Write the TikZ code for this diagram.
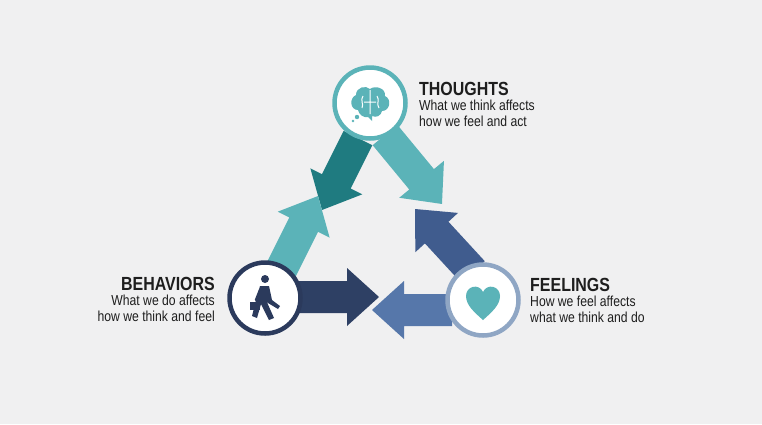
\documentclass[tikz,border=0pt]{standalone}
\usepackage{fontspec}
\setmainfont{Liberation Sans}[FakeStretch=0.84]
\usetikzlibrary{calc}
\definecolor{bg}{HTML}{F0F0F1}
\definecolor{tealL}{HTML}{5BB3B8}
\definecolor{tealD}{HTML}{1F7B80}
\definecolor{navyD}{HTML}{2E4064}
\definecolor{blueM}{HTML}{5677AA}
\definecolor{blueN}{HTML}{405C8E}
\definecolor{ringN}{HTML}{2B3A5C}
\definecolor{ringB}{HTML}{8FA6C4}
\definecolor{txt}{HTML}{1E1E1E}
\tikzset{
  ring/.style={circle,draw=#1,line width=4.5pt,fill=white,minimum size=71pt,inner sep=0pt},
  ttl/.style={anchor=base west,font=\bfseries\fontsize{19}{19}\selectfont,text=txt,inner sep=0pt},
  body/.style={anchor=north west,align=left,font=\fontsize{14.5}{15.5}\selectfont,text=txt,inner sep=0pt}
}
% block arrow: #1 colour, #2 tail, #3 tip
\newcommand{\blockarrow}[3]{%
  \path let \p1=#2, \p2=#3, \n1={atan2(\y2-\y1,\x2-\x1)}, \n2={veclen(\x2-\x1,\y2-\y1)} in
  [fill=#1] [shift={#2},rotate=\n1]
   (0,-16) -- ({\n2-32},-16) -- ({\n2-32},-29) -- (\n2,0) -- ({\n2-32},29) -- ({\n2-32},16) -- (0,16) -- cycle;}
\begin{document}
\begin{tikzpicture}[x=1pt,y=-1pt]
\fill[bg] (0,0) rectangle (762,424);
\useasboundingbox (0,0) rectangle (762,424);
\coordinate (t1) at (358,138); \coordinate (h1) at (322,210);
\coordinate (t2) at (280,272); \coordinate (h2) at (318,196);
\coordinate (t3) at (385,135); \coordinate (h3) at (442,204);
\coordinate (t4) at (473,272); \coordinate (h4) at (415,209);
\coordinate (t5) at (298,297); \coordinate (h5) at (379,297);
\coordinate (t6) at (452,310); \coordinate (h6) at (372,310);
\blockarrow{tealD}{(t1)}{(h1)}
\blockarrow{tealL}{(t2)}{(h2)}
\blockarrow{tealL}{(t3)}{(h3)}
\blockarrow{blueN}{(t4)}{(h4)}
\blockarrow{navyD}{(t5)}{(h5)}
\blockarrow{blueM}{(t6)}{(h6)}
\node[ring=tealL] (th) at (370,103) {};
\node[ring=ringN] (be) at (265,298) {};
\node[ring=ringB] (fe) at (483,300) {};
% brain icon
\fill[tealL] (358,110) .. controls (350,110) and (349,98) .. (356,95)
  .. controls (356,87) and (366,85) .. (370,89) .. controls (375,85) and (386,88) .. (385,96)
  .. controls (392,99) and (390,111) .. (382,111) .. controls (381,116) and (376,118) .. (372,116)
  -- (372,121) -- (368,117) .. controls (364,118) and (359,115) .. (358,110) -- cycle;
\draw[white,line width=1pt] (370,90) -- (370,114) (363,96) .. controls (360,100) and (364,104) .. (362,108)
  (377,96) .. controls (380,100) and (376,104) .. (379,108) (364,102) -- (376,102);
\fill[tealL] (357,117) circle (2.2) (353,121) circle (1.3);
% heart icon
\fill[tealL] (483,320) .. controls (474,312) and (466,305) .. (466,296)
  .. controls (466,286) and (479,283) .. (483,292)
  .. controls (487,283) and (500,286) .. (500,296)
  .. controls (500,305) and (492,312) .. (483,320) -- cycle;
% walker icon
\fill[ringN] (265,279) circle (4);
\fill[ringN] (260,286) -- (269,286) -- (272,300) -- (280,306) -- (278,309) -- (268,303) -- (266,300) -- (274,318) -- (269,320) -- (261,304) -- (257,318) -- (252,316) -- (256,300) -- cycle;
\draw[ringN,line width=2.5pt,line cap=round] (260,290) -- (256,300);
\fill[ringN] (250,302) rectangle (260,310);
% texts
\node[ttl] (tht) at (419,95) {THOUGHTS};
\node[body] (thb) at (419,100) {What we think affects\\how we feel and act};
\node[ttl,anchor=base east] (bet) at (215,290) {BEHAVIORS};
\node[body,anchor=north east,align=right] (beb) at (215,295) {What we do affects\\how we think and feel};
\node[ttl] (fet) at (530,291) {FEELINGS};
\node[body] (feb) at (530,296) {How we feel affects\\what we think and do};
\end{tikzpicture}
\end{document}
